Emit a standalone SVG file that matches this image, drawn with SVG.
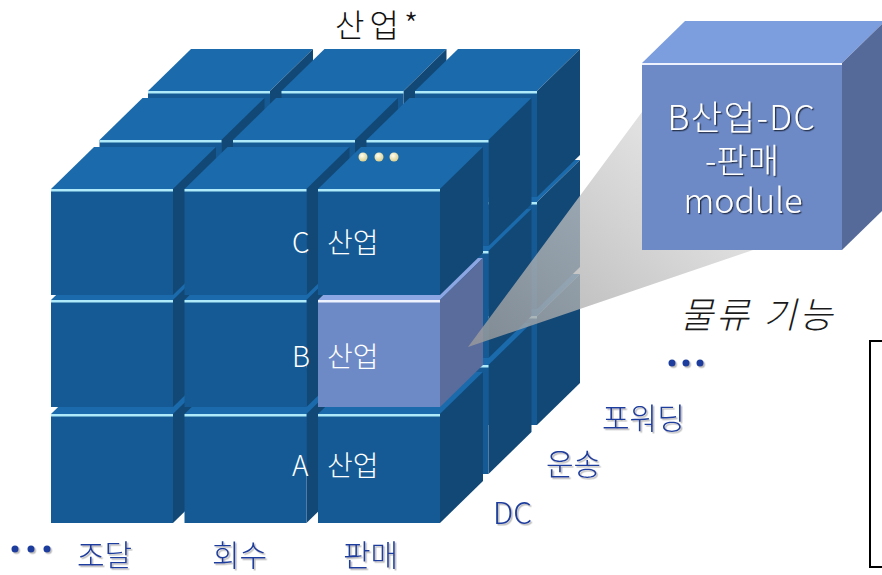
<svg xmlns="http://www.w3.org/2000/svg" width="882" height="575" viewBox="0 0 882 575">
<defs>
<style>
.front{fill:#155A94}
.top{fill:#1B6AAC}
.side{fill:#124876}
.hl{fill:#AEEAFA}
.hfront{fill:#6E8AC6}
.htop{fill:#8CA6E4}
.hside{fill:#5A6C9C}
.hhl{fill:#EEF2FF}
.t{font-family:"Noto Sans CJK KR","Noto Sans",sans-serif;font-weight:300}
.wt{fill:#FFFFFF;font-size:28px}
.bl{fill:#1C3D9E;font-size:30px;filter:url(#ts)}
.ct{fill:#FFFFFF;font-size:34px;text-anchor:middle;filter:url(#cs)}
.bdot{fill:#1C3D9E}
</style>
<filter id="ts" x="-30%" y="-30%" width="160%" height="160%"><feDropShadow dx="1.5" dy="1.5" stdDeviation="0.6" flood-color="#888888" flood-opacity="0.6"/></filter>
<filter id="cs" x="-30%" y="-30%" width="160%" height="160%"><feDropShadow dx="1.3" dy="1.3" stdDeviation="0.4" flood-color="#1A2540" flood-opacity="0.9"/></filter>
<radialGradient id="pearl" cx="0.4" cy="0.35" r="0.7"><stop offset="0" stop-color="#FFFFF0"/><stop offset="1" stop-color="#D8CC88"/></radialGradient>
<linearGradient id="fun" gradientUnits="userSpaceOnUse" x1="468" y1="347" x2="660" y2="150"><stop offset="0" stop-color="#9A9A9A" stop-opacity="0.8"/><stop offset="1" stop-color="#D6D6D6" stop-opacity="0.75"/></linearGradient>
<g id="c106">
<polygon class="top" points="0,0 43,-42 165,-42 122,0"/>
<polygon class="side" points="122,0 165,-42 165,64 122,106"/>
<rect class="front" x="0" y="0" width="122" height="106"/>
<rect class="hl" x="0" y="0" width="122" height="2.5"/>
</g>
<g id="c107">
<polygon class="top" points="0,0 43,-42 165,-42 122,0"/>
<polygon class="side" points="122,0 165,-42 165,65 122,107"/>
<rect class="front" x="0" y="0" width="122" height="107"/>
<rect class="hl" x="0" y="0" width="122" height="2.5"/>
</g>
<g id="c109">
<polygon class="top" points="0,0 43,-42 165,-42 122,0"/>
<polygon class="side" points="122,0 165,-42 165,67 122,109"/>
<rect class="front" x="0" y="0" width="122" height="109"/>
<rect class="hl" x="0" y="0" width="122" height="2.5"/>
</g>
</defs>

<g id="cubes">
<g id="L2-A1"><use href="#c109" x="148" y="316"/></g>
<g id="L2-A2"><use href="#c109" x="281.5" y="316"/></g>
<g id="L2-A3"><use href="#c109" x="415" y="316"/></g>
<g id="L2-B1"><use href="#c107" x="148" y="202"/></g>
<g id="L2-B2"><use href="#c107" x="281.5" y="202"/></g>
<g id="L2-B3"><use href="#c107" x="415" y="202"/></g>
<g id="L2-C1"><use href="#c106" x="148" y="91"/></g>
<g id="L2-C2"><use href="#c106" x="281.5" y="91"/></g>
<g id="L2-C3"><use href="#c106" x="415" y="91"/></g>

<g id="L1-A1"><use href="#c109" x="99.5" y="365"/></g>
<g id="L1-A2"><use href="#c109" x="233" y="365"/></g>
<g id="L1-A3"><use href="#c109" x="366.5" y="365"/></g>
<g id="L1-B1"><use href="#c107" x="99.5" y="251"/></g>
<g id="L1-B2"><use href="#c107" x="233" y="251"/></g>
<g id="L1-B3"><use href="#c107" x="366.5" y="251"/></g>
<g id="L1-C1"><use href="#c106" x="99.5" y="140"/></g>
<g id="L1-C2"><use href="#c106" x="233" y="140"/></g>
<g id="L1-C3"><use href="#c106" x="366.5" y="140"/></g>

<g id="L0-A1"><use href="#c109" x="51" y="414"/></g>
<g id="L0-A2"><use href="#c109" x="184.5" y="414"/></g>
<g id="L0-A3"><use href="#c109" x="318" y="414"/></g>
<g id="L0-B1"><use href="#c107" x="51" y="300"/></g>
<g id="L0-B2"><use href="#c107" x="184.5" y="300"/></g>
<g id="L0-B3-highlight">
<polygon class="htop" points="318,300 361,258 483,258 440,300"/>
<polygon class="hside" points="440,300 483,258 483,365 440,407"/>
<rect class="hfront" x="318" y="300" width="122" height="107"/>
<rect class="hhl" x="318" y="300" width="122" height="2.5"/>
</g>
<g id="L0-C1"><use href="#c106" x="51" y="189"/></g>
<g id="L0-C2"><use href="#c106" x="184.5" y="189"/></g>
<g id="L0-C3"><use href="#c106" x="318" y="189"/></g>
</g>

<g id="connectors">
<polygon id="zoom-funnel" fill="url(#fun)" points="468,347 642,112 642,250 756,249"/>
</g>

<g id="callout">
<polygon fill="#7C9EDF" points="642,63 685,21 885,21 842,63"/>
<polygon fill="#566A9A" points="842,63 885,21 885,208 842,250"/>
<rect fill="#6D8AC6" x="642" y="63" width="200" height="187"/>
<rect fill="#EEF2FF" x="642" y="63" width="200" height="2"/>
<text class="t ct" x="742" y="130" letter-spacing="1.5">B산업-DC</text>
<text class="t ct" x="742" y="173">-판매</text>
<text class="t ct" x="743" y="213">module</text>
</g>

<g id="label-industry-axis"><text class="t" x="335" y="37" font-size="32" fill="#111111" letter-spacing="5">산업*</text></g>
<g id="label-C"><text class="t wt" x="292" y="253">C <tspan x="327">산업</tspan></text></g>
<g id="label-B"><text class="t wt" x="292" y="367">B <tspan x="327">산업</tspan></text></g>
<g id="label-A"><text class="t wt" x="292" y="476">A <tspan x="327">산업</tspan></text></g>
<g id="label-logistics-axis"><text class="t" x="680" y="328" font-size="36" font-style="italic" fill="#1A1A1A" letter-spacing="3">물류 기능</text></g>
<g id="label-forwarding"><text class="t bl" x="602" y="429" font-size="29">포워딩</text></g>
<g id="label-transport"><text class="t bl" x="546" y="475">운송</text></g>
<g id="label-DC"><text class="t bl" x="493" y="524">DC</text></g>
<g id="label-procure"><text class="t bl" x="77" y="566" font-size="29.5">조달</text></g>
<g id="label-return"><text class="t bl" x="212" y="566" font-size="29.5">회수</text></g>
<g id="label-sales"><text class="t bl" x="343" y="566" font-size="29.5">판매</text></g>

<g id="dots-top"><circle cx="363" cy="157" r="4.5" fill="url(#pearl)"/><circle cx="379" cy="157" r="4.5" fill="url(#pearl)"/><circle cx="394" cy="157" r="4.5" fill="url(#pearl)"/></g>
<g id="dots-left" filter="url(#ts)"><circle class="bdot" cx="15" cy="549" r="3.5"/><circle class="bdot" cx="31" cy="549" r="3.5"/><circle class="bdot" cx="47" cy="549" r="3.5"/></g>
<g id="dots-right" filter="url(#ts)"><circle class="bdot" cx="672" cy="363" r="3.5"/><circle class="bdot" cx="686" cy="363" r="3.5"/><circle class="bdot" cx="700" cy="363" r="3.5"/></g>

<g id="bracket"><rect x="870" y="341" width="40" height="226" fill="none" stroke="#000000" stroke-width="2"/></g>
</svg>
